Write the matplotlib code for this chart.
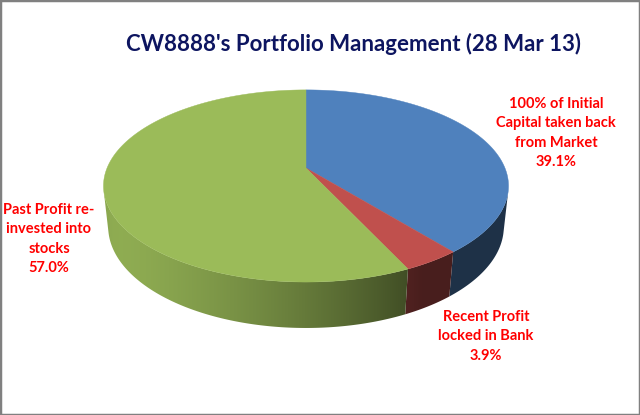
import numpy as np
import matplotlib.pyplot as plt
from matplotlib.colors import to_rgb
from matplotlib.patches import Polygon, Rectangle

# Data
labels = ['100% of Initial\nCapital taken back\nfrom Market',
          'Recent Profit\nlocked in Bank',
          'Past Profit re-\ninvested into\nstocks']
shares = [39.1, 3.9, 57.0]
colors = ['#4F81BD', '#C0504D', '#9BBB59']
title = "CW8888's Portfolio Management (28 Mar 13)"

# label centres in pixels
label_pos = [(556, 133), (486, 336), (49, 239)]

# 3D view (perspective), in pixel space
elev = np.arcsin(0.466)
dist = 4.73
scale = 941
cx, cy = 306, 168
thick = 0.233
light = np.radians(210)


def project(x, y, z):
    d = dist + y * np.cos(elev) - z * np.sin(elev)
    u = x / d
    v = (y * np.sin(elev) + z * np.cos(elev)) / d
    return cx + scale * u, cy - scale * v


def rim(a, z=0.0):
    return project(np.cos(a), np.sin(a), z)


def light_factor(a):
    return 0.38 + 0.54 * np.maximum(0.0, np.cos(a - light))


fig = plt.figure(figsize=(6.4, 4.15), dpi=100)
ax = fig.add_axes([0, 0, 1, 1])
ax.set_xlim(0, 640)
ax.set_ylim(415, 0)
ax.axis('off')

# slice angles, clockwise from 12 o'clock
bounds = np.radians(90 - np.concatenate([[0], np.cumsum(shares)]) * 3.6)

# visible part of the side wall: sin(a) < -1/(dist*cos(elev))
s_lim = -1.0 / (dist * np.cos(elev))
a_lo = np.pi + np.arcsin(-s_lim) - 2 * np.pi   # left end (about -166 deg)
a_hi = -np.arcsin(-s_lim)                      # right end (about -14 deg)

# shading as function of screen x along the front rim
fa = np.linspace(a_lo, a_hi, 400)
fx, _ = rim(fa, -thick)
xs_img = np.arange(0, 640) + 0.5
fac = np.interp(xs_img, fx, light_factor(fa))

for i, col in enumerate(colors):
    a0, a1 = bounds[i], bounds[i + 1]
    # unwrap to the range used for the front side
    lo, hi = sorted([a0, a1])
    while hi > a_hi + 2 * np.pi:
        lo -= 2 * np.pi
        hi -= 2 * np.pi
    lo, hi = max(lo, a_lo), min(hi, a_hi)
    if hi <= lo:
        continue
    aa = np.linspace(lo, hi, 200)
    tx, ty = rim(aa)
    bx, by = rim(aa[::-1], -thick)
    pts = list(zip(tx, ty)) + list(zip(bx, by))
    clip = Polygon(pts, closed=True, fc='none', ec='none')
    ax.add_patch(clip)
    img = np.clip(np.array(to_rgb(col))[None, None, :] * fac[None, :, None], 0, 1)
    im = ax.imshow(img, extent=(0, 640, 415, 0), aspect='auto',
                   interpolation='bilinear', zorder=1)
    im.set_clip_path(clip)

# top faces
for i, col in enumerate(colors):
    aa = np.linspace(bounds[i], bounds[i + 1], 200)
    xs, ys = rim(aa)
    pts = [project(0, 0, 0)] + list(zip(xs, ys))
    ax.add_patch(Polygon(pts, closed=True, fc=col, ec=col, lw=0.3, zorder=2))

# labels
for lab, val, (lx, ly) in zip(labels, shares, label_pos):
    ax.text(lx, ly, f'{lab}\n{val:.1f}%', ha='center', va='center',
            color='#FF0000', fontsize=10.5, fontweight='bold',
            family='Lato', linespacing=1.5, zorder=3)

ax.text(353, 51, title, ha='center', va='baseline', color='#0D1560',
        fontsize=16, fontweight='bold', family='Lato', zorder=3)

ax.set_xlim(0, 640)
ax.set_ylim(415, 0)
ax.add_patch(Rectangle((0, 0), 1, 1, transform=ax.transAxes, fill=False,
                       ec='#808080', lw=2.5, clip_on=False, zorder=4))

fig.savefig('out.png', dpi=100)
